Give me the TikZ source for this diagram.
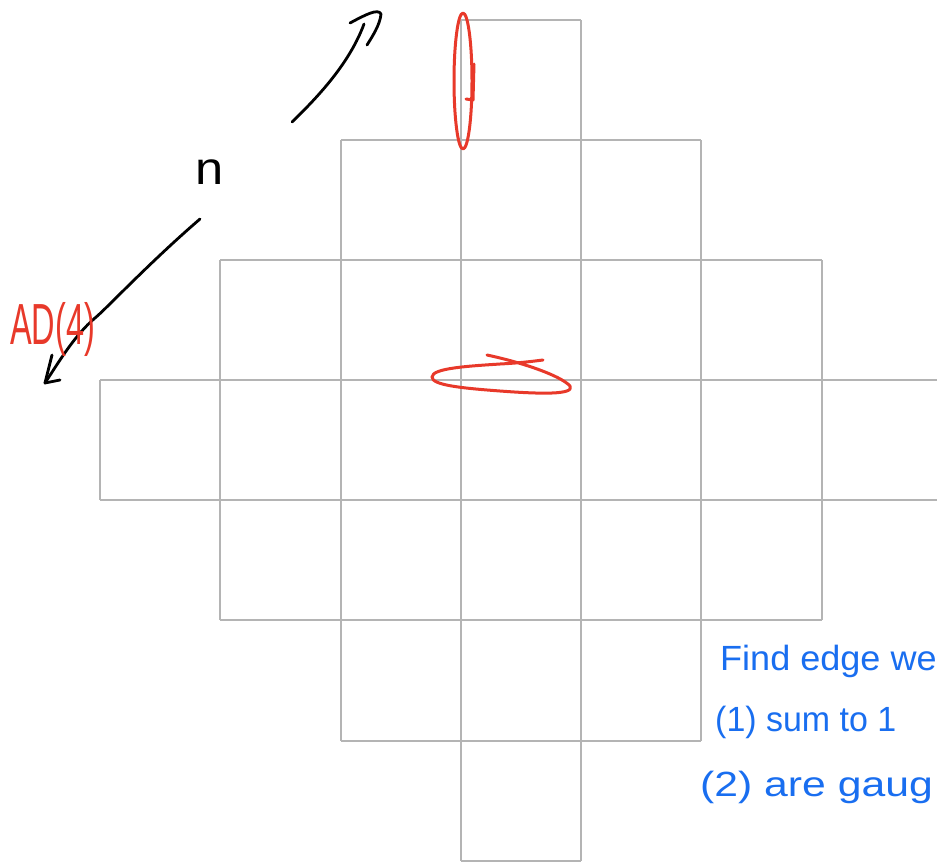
\documentclass[tikz,border=0pt]{standalone}
\usepackage{fontspec}
\setmainfont{Liberation Sans}
\definecolor{inkred}{RGB}{232,57,42}
\definecolor{inkblue}{RGB}{25,110,240}
\definecolor{gridgray}{RGB}{180,180,180}
\tikzset{
  gridline/.style={draw=gridgray, line width=2.2pt},
  redink/.style={inkred, line width=3pt, line cap=round, line join=round},
  blackink/.style={black, line width=2.8pt, line cap=round, line join=round},
  bluetext/.style={inkblue, anchor=base west, inner sep=0pt, font=\fontsize{35}{35}\selectfont},
}
\begin{document}
\begin{tikzpicture}[x=1pt,y=-1pt]
\useasboundingbox (0,0) rectangle (937,865);
\fill[white] (0,0) rectangle (937,865);
% horizontal grid lines
\draw[gridline] (461,20) -- (581,20);
\draw[gridline] (341,140) -- (701,140);
\draw[gridline] (220,260) -- (822,260);
\draw[gridline] (100,380) -- (945,380);
\draw[gridline] (100,500) -- (945,500);
\draw[gridline] (220,620) -- (822,620);
\draw[gridline] (341,741) -- (701,741);
\draw[gridline] (461,861) -- (581,861);
% vertical grid lines
\draw[gridline] (100,380) -- (100,500);
\draw[gridline] (220,260) -- (220,620);
\draw[gridline] (341,140) -- (341,741);
\draw[gridline] (461,20) -- (461,861);
\draw[gridline] (581,20) -- (581,861);
\draw[gridline] (701,140) -- (701,741);
\draw[gridline] (822,260) -- (822,620);
% black arrows
\draw[blackink] (292,122) .. controls (320,95) and (350,62) .. (364,24);
\draw[blackink] (350,23) .. controls (365,15) and (378,8) .. (381,14) .. controls (380,25) and (372,37) .. (367,45);
\draw[blackink] (200,219) .. controls (150,262) and (105,310) .. (95,318) .. controls (75,335) and (60,360) .. (45,383);
\draw[blackink] (52,355) -- (45,383) -- (60,380);
\node[anchor=base west, inner sep=0pt, font=\fontsize{46}{46}\selectfont] (n) at (195,184) {\scalebox{1.1}[1]{n}};
% red marks
\node[inkred, anchor=base west, inner sep=0pt, font=\fontsize{58}{58}\selectfont] (ad) at (10,344) {\scalebox{0.56}[1]{AD(4)}};
\draw[redink] (463,81) ellipse (9 and 68);
\draw[redink] (474,64) -- (473,100) -- (466,99);
\draw[redink] (487,355) .. controls (520,362) and (560,375) .. (570,386)
  .. controls (575,395) and (540,394) .. (500,391)
  .. controls (460,388) and (432,385) .. (432,377)
  .. controls (432,368) and (470,366) .. (500,364)
  .. controls (520,363) and (535,361) .. (543,360);
% blue text
\node[bluetext] (t1) at (720,670) {\scalebox{1.03}[1]{Find edge we}};
\node[bluetext] (t2) at (715,731) {\scalebox{0.97}[1]{(1) sum to 1}};
\node[bluetext] (t3) at (700,796) {\scalebox{1.22}[1]{(2) are gaug}};
\end{tikzpicture}
\end{document}
